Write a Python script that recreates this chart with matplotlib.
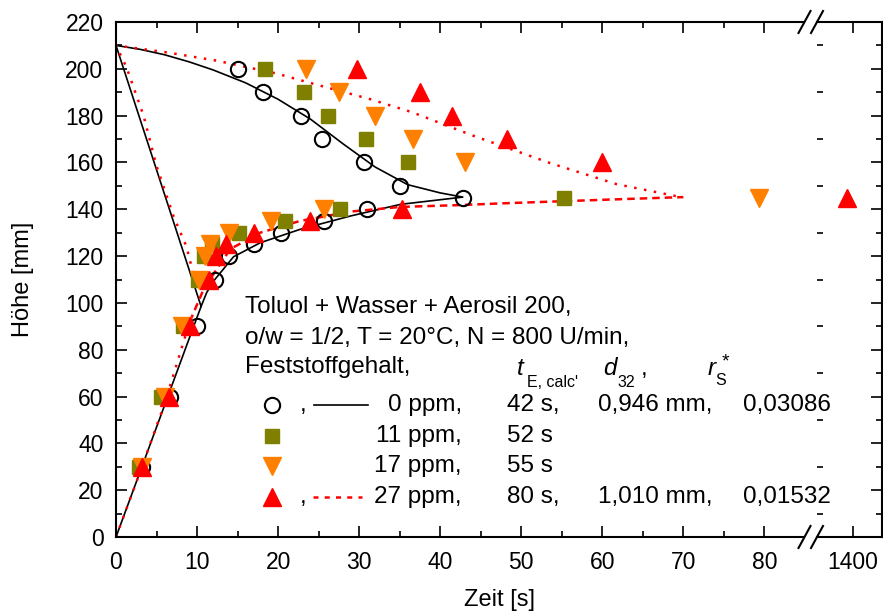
import numpy as np
import matplotlib
matplotlib.use('Agg')
import matplotlib.pyplot as plt
from matplotlib.lines import Line2D
from matplotlib.ticker import MultipleLocator, FixedLocator

plt.rcParams['font.family'] = ['Liberation Sans', 'DejaVu Sans']
plt.rcParams['font.size'] = 16.5

W, H = 883, 614

# measured points, 0 ppm (open circles)
c0_t = [3.2, 6.7, 10.0, 12.2, 14.0, 17.0, 20.4, 25.7, 31.0, 42.8,
        15.1, 18.1, 22.8, 25.4, 30.6, 35.0]
c0_h = [30, 60, 90, 110, 120, 125, 130, 135, 140, 145,
        200, 190, 180, 170, 160, 150]

# 11 ppm (squares)
c11_t = [2.8, 5.6, 8.3, 10.1, 10.8, 11.8, 15.2, 20.9, 27.7, 55.3,
         18.4, 23.2, 26.2, 30.8, 36.0]
c11_h = [30, 60, 90, 110, 120, 125, 130, 135, 140, 145,
         200, 190, 180, 170, 160]

# 17 ppm (down triangles)
c17_t = [3.2, 6.0, 8.1, 10.2, 11.0, 11.6, 13.9, 19.1, 25.7, 79.3,
         23.5, 27.5, 31.9, 36.6, 43.1]
c17_h = [30, 60, 90, 110, 120, 125, 130, 135, 140, 145,
         200, 190, 180, 170, 160]

# 27 ppm (up triangles)
c27_t = [3.2, 6.5, 9.1, 11.5, 12.4, 13.6, 17.0, 24.0, 35.3,
         29.8, 37.5, 41.5, 48.2, 60.0]
c27_h = [30, 60, 90, 110, 120, 125, 130, 135, 140,
         200, 190, 180, 170, 160]
c27_late_t = [1399.2]
c27_late_h = [145]

# model curve 0 ppm
fit0_t = [0, 3.2, 6.5, 9.0, 10.5, 11.2, 12.2, 14.5, 17.8, 22.7, 28.9, 35.1, 42.8,
          40, 36, 32, 28, 24, 20, 16, 12, 9, 6, 3, 0, 10.5]
fit0_h = [0, 30, 61, 84.5, 98.5, 104.5, 110, 119.7, 125.7, 131.4, 137.1, 142.1, 145.2,
          147, 150.5, 158, 168, 178.5, 187, 194, 199.5, 203, 206, 208.3, 210, 98.5]

# model curve 27 ppm
fit27_up_t = [10.2, 9.5, 8.7, 7.1, 5.0, 3.4, 1.3, 0, 6.3, 12.4, 19.8, 25.2, 31.4,
              36.5, 44.1, 53.6, 61.8, 68.0, 70.0]
fit27_up_h = [109, 113, 124, 137, 158.5, 180, 200.6, 210, 207, 203.5, 198, 192.8, 187,
              181.5, 171.4, 159.7, 150.7, 146.4, 145]
fit27_rise_t = [0, 3.0, 6.0, 9.1]
fit27_rise_h = [0, 28, 57, 92]
fit27_low_t = [9.1, 10.8, 12.4, 14.1, 17.8, 22.7, 28.9, 35.1, 42.5, 47.4, 55.6, 63.9, 70.0]
fit27_low_h = [92, 105.7, 114.3, 123, 130, 135, 139, 141, 141.8, 142.5, 143.5, 144.5, 145.2]

OLIVE = '#808000'
ORANGE = '#ff8000'
RED = '#ff0000'


def fx(px):
    return px / W


def fy(py):
    return 1 - py / H


fig = plt.figure(figsize=(W / 100, H / 100), dpi=100)
ax1 = fig.add_axes([fx(116), fy(537), fx(804 - 116), (537 - 22) / H])
ax2 = fig.add_axes([fx(817), fy(537), fx(882 - 817), (537 - 22) / H])

for ax in (ax1, ax2):
    ax.plot(fit0_t, fit0_h, color='black', lw=1.2, zorder=2)
    ax.plot(fit27_up_t, fit27_up_h, color=RED, lw=1.8, ls=(0, (1, 3)), zorder=2)
    ax.plot(fit27_rise_t, fit27_rise_h, color=RED, lw=1.8, ls=(0, (1, 3)), zorder=2)
    ax.plot(fit27_low_t, fit27_low_h, color=RED, lw=1.8, ls=(0, (3, 2)), zorder=2)
    ax.plot(c0_t, c0_h, 'o', ms=11, mfc='none', mec='black', mew=1.5, zorder=3)
    ax.plot(c11_t, c11_h, 's', ms=10, color=OLIVE, mec=OLIVE, zorder=4)
    ax.plot(c17_t, c17_h, 'v', ms=12.5, color=ORANGE, mec=ORANGE, zorder=5)
    ax.plot(c27_t, c27_h, '^', ms=12.5, color=RED, mec=RED, zorder=6)
    ax.plot(c27_late_t, c27_late_h, '^', ms=12.5, color=RED, mec=RED, zorder=6)
    ax.set_ylim(0, 220)
    ax.tick_params(which='both', direction='in', top=True, width=1.2, labelsize=16.5)
    ax.tick_params(which='major', length=8)
    ax.tick_params(which='minor', length=4.5)
    ax.tick_params(axis='x', pad=10)
    ax.tick_params(axis='y', pad=9)
    for s in ax.spines.values():
        s.set_linewidth(1.5)

ax1.set_xlim(0, 84.9)
ax1.xaxis.set_major_locator(MultipleLocator(10))
ax1.xaxis.set_minor_locator(MultipleLocator(5))
ax1.yaxis.set_major_locator(MultipleLocator(20))
ax1.yaxis.set_minor_locator(MultipleLocator(10))
ax1.spines['right'].set_visible(False)
ax1.tick_params(right=False)

ax2.set_xlim(1395.56, 1403.58)
ax2.xaxis.set_major_locator(FixedLocator([1400]))
ax2.xaxis.set_minor_locator(FixedLocator([]))
ax2.yaxis.set_major_locator(MultipleLocator(20))
ax2.yaxis.set_minor_locator(MultipleLocator(10))
ax2.spines['left'].set_visible(False)
ax2.tick_params(left=False, labelleft=False, right=True, labelright=False)
ax2.tick_params(axis='y', which='minor', right=True)

# break marks
for yb in (22, 537):
    for xb in (804.5, 817):
        fig.add_artist(Line2D([fx(xb - 6), fx(xb + 6)], [fy(yb + 11), fy(yb - 11)],
                              color='black', lw=1.5))

fig.text(fx(23), fy(279.5), 'Höhe [mm]', rotation=90, ha='center', va='center', fontsize=17)
fig.text(fx(499), fy(600), 'Zeit [s]', ha='center', va='center', fontsize=17)

# annotation block
fs = 17.5
lines = ['Toluol + Wasser + Aerosil 200,', 'o/w = 1/2, T = 20°C, N = 800 U/min,', 'Feststoffgehalt,']
for s, yc in zip(lines, [307, 338, 367]):
    fig.text(fx(245), fy(yc), s, ha='left', va='center', fontsize=fs)

fig.text(fx(517), fy(375), 't', style='italic', ha='left', va='baseline', fontsize=fs)
fig.text(fx(527), fy(387), "E, calc'", ha='left', va='baseline', fontsize=11.5)
fig.text(fx(603), fy(375), 'd', style='italic', ha='left', va='baseline', fontsize=fs)
fig.text(fx(617), fy(387), '32', ha='left', va='baseline', fontsize=11.5)
fig.text(fx(641), fy(375), ',', ha='left', va='baseline', fontsize=fs)
fig.text(fx(708), fy(375), 'r', style='italic', ha='left', va='baseline', fontsize=fs)
fig.text(fx(715), fy(385), 'S', ha='left', va='baseline', fontsize=11.5)
fig.text(fx(722), fy(366), '*', ha='left', va='baseline', fontsize=14)

row_y = [405, 436, 466, 497]
ppm = ['0 ppm,', '11 ppm,', '17 ppm,', '27 ppm,']
t_calc = ['42 s,', '52 s', '55 s', '80 s,']
d32 = ['0,946 mm,', '', '', '1,010 mm,']
rs = ['0,03086', '', '', '0,01532']
marks = [dict(marker='o', ms=11, mfc='none', mec='black', mew=1.5),
         dict(marker='s', ms=10, color=OLIVE, mec=OLIVE),
         dict(marker='v', ms=12.5, color=ORANGE, mec=ORANGE),
         dict(marker='^', ms=12.5, color=RED, mec=RED)]
for i, yc in enumerate(row_y):
    fig.add_artist(Line2D([fx(271.7)], [fy(yc)], ls='none', **marks[i]))
    fig.text(fx(462), fy(yc), ppm[i], ha='right', va='center', fontsize=fs)
    fig.text(fx(507), fy(yc), t_calc[i], ha='left', va='center', fontsize=fs)
    fig.text(fx(598), fy(yc), d32[i], ha='left', va='center', fontsize=fs)
    fig.text(fx(743), fy(yc), rs[i], ha='left', va='center', fontsize=fs)

fig.text(fx(300), fy(row_y[0]), ',', ha='left', va='center', fontsize=fs)
fig.text(fx(300), fy(row_y[3]), ',', ha='left', va='center', fontsize=fs)
fig.add_artist(Line2D([fx(314), fx(368)], [fy(row_y[0])] * 2, color='black', lw=1.2))
fig.add_artist(Line2D([fx(313), fx(362)], [fy(row_y[3])] * 2, color=RED, lw=1.8, ls=(0, (2, 2.5))))

fig.savefig('out.png', dpi=100)
